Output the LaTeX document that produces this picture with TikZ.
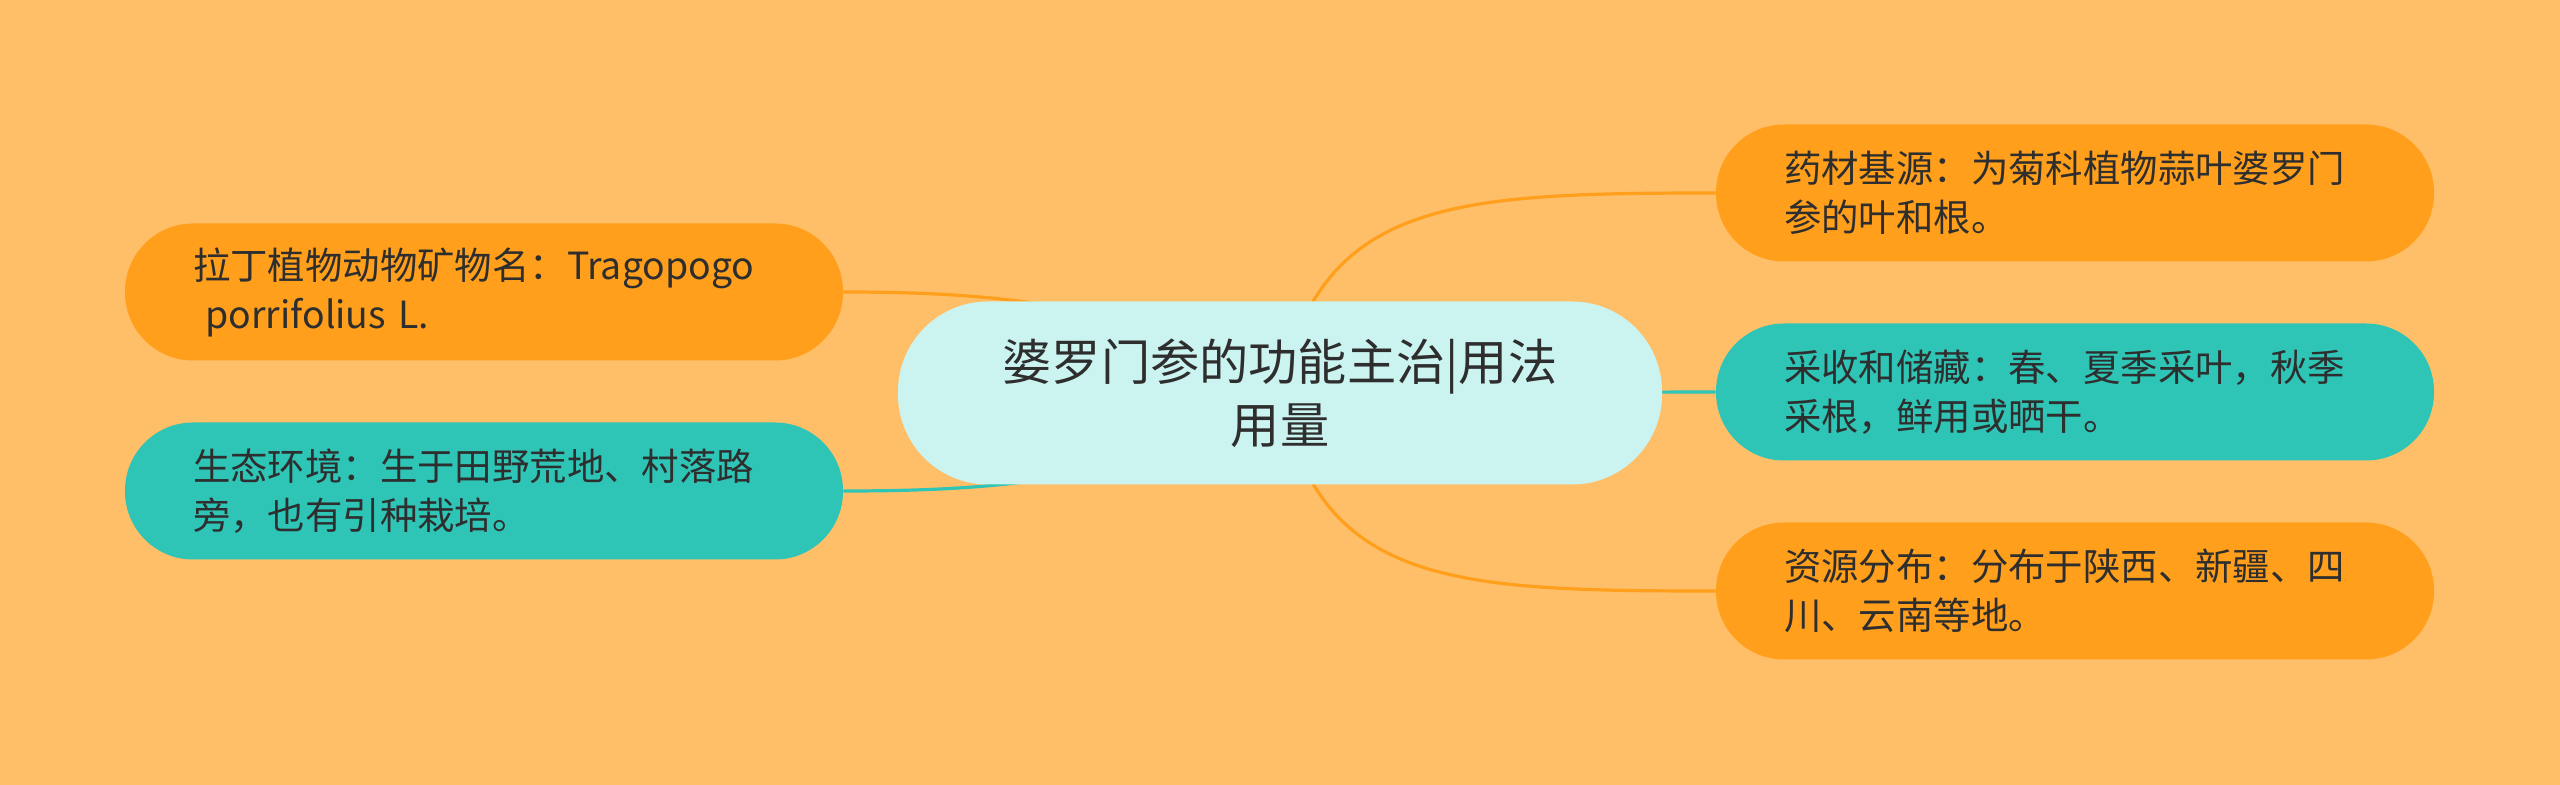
\documentclass[tikz,border=0pt]{standalone}
\usepackage{fontspec}
\setmainfont{Noto Sans CJK SC}
\usetikzlibrary{backgrounds}
\definecolor{bgc}{HTML}{FFBF69}
\definecolor{orgc}{HTML}{FF9F1C}
\definecolor{tealc}{HTML}{2EC4B6}
\definecolor{palec}{HTML}{CBF3F0}
\definecolor{txtc}{HTML}{2E2E2E}
\tikzset{
  leaf/.style={rounded corners=34pt, minimum height=68.5pt, inner xsep=34pt, inner ysep=0pt,
    text width=291pt, align=left, text=txtc, font=\fontsize{18.7pt}{24.5pt}\selectfont},
  orgleaf/.style={leaf, fill=orgc},
  tealleaf/.style={leaf, fill=tealc},
  root/.style={rounded corners=45pt, minimum width=382pt, minimum height=91.5pt, fill=palec,
    align=center, text=txtc, font=\fontsize{24.6pt}{31.5pt}\selectfont},
  link/.style={line width=1.6pt},
}
\begin{document}
\begin{tikzpicture}[x=0.5pt,y=-0.5pt]
\useasboundingbox (0,0) rectangle (2560,785);
\node[root] (c) at (1280,393) {婆罗门参的功能主治|用法\\用量};
\node[orgleaf] (l1) at (484,292) {拉丁植物动物矿物名：Tragopogo\\\ porrifolius L.};
\node[tealleaf] (l2) at (484,491) {生态环境：生于田野荒地、村落路\\旁，也有引种栽培。};
\node[orgleaf] (r1) at (2075,193) {药材基源：为菊科植物蒜叶婆罗门\\参的叶和根。};
\node[tealleaf] (r2) at (2075,392) {采收和储藏：春、夏季采叶，秋季\\采根，鲜用或晒干。};
\node[orgleaf] (r3) at (2075,591) {资源分布：分布于陕西、新疆、四\\川、云南等地。};
\begin{pgfonlayer}{background}
\fill[bgc] (0,0) rectangle (2560,785);
\draw[link, orgc] (l1.east) .. controls (1000,292) and (1150,305) .. (c.center);
\draw[link, tealc] (l2.east) .. controls (1000,491) and (1150,480) .. (c.center);
\draw[link, orgc] (c.center) .. controls (1320,200) and (1450,193) .. (r1.west);
\draw[link, tealc] (c.center) -- (r2.west);
\draw[link, orgc] (c.center) .. controls (1320,585) and (1450,591) .. (r3.west);
\end{pgfonlayer}
\end{tikzpicture}
\end{document}
